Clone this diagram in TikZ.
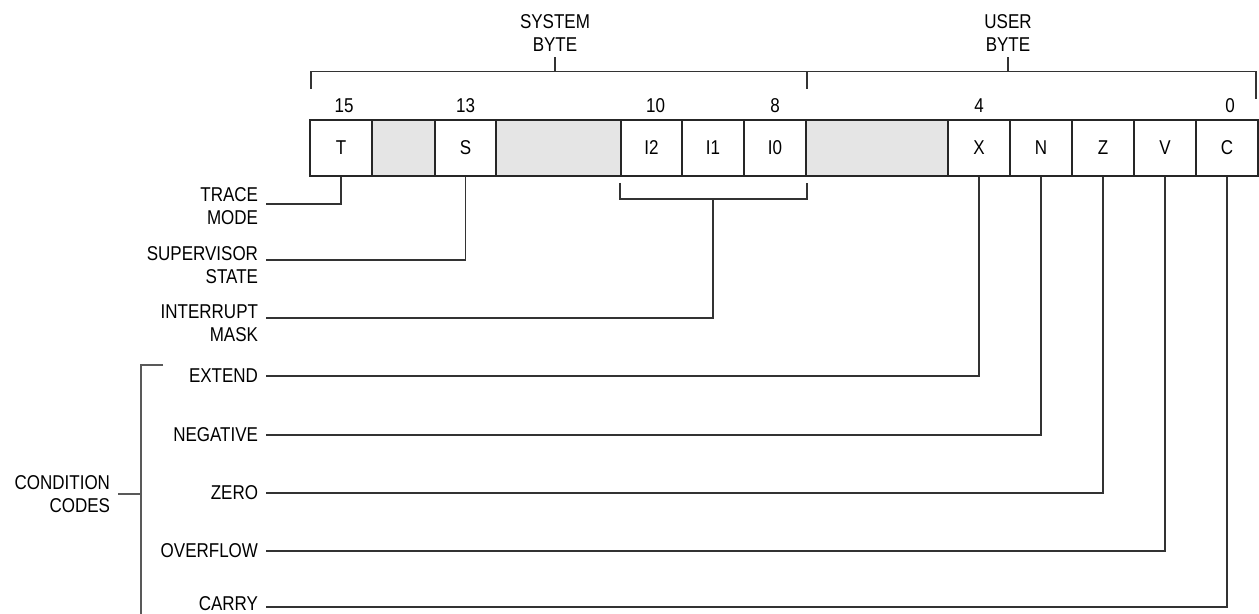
\documentclass[tikz,border=0pt]{standalone}
\usepackage{fontspec}
\setmainfont{Liberation Sans}[FakeStretch=0.85]
\usetikzlibrary{positioning}

\begin{document}
\begin{tikzpicture}[x=0.5pt, y=-0.5pt,
  font=\fontsize{10}{11.75}\selectfont,
  cell/.style={draw=black!85, line width=1pt, minimum height=28pt, inner sep=0pt, minimum width=31pt},
  unused/.style={cell, fill=black!10},
  bitno/.style={inner sep=0pt},
  lab/.style={align=right, anchor=east, inner sep=1pt, outer sep=3pt},
  conn/.style={draw=black!80, line width=0.6pt},
  ccline/.style={draw=black!65, line width=0.6pt}]
\useasboundingbox (0,0) rectangle (1259,614);

% Status register cells
\node[cell] (T) at (341,148) {T};
\node[unused, minimum width=31.5pt] (u14) at (403.5,148) {};
\node[cell, minimum width=30.5pt] (S) at (465.5,148) {S};
\node[unused, minimum width=62.5pt] (u12) at (558.5,148) {};
\node[cell, minimum width=30.5pt] (I2) at (651.5,148) {I2};
\node[cell] (I1) at (713,148) {I1};
\node[cell] (I0) at (775,148) {I0};
\node[unused, minimum width=71pt] (u7) at (877,148) {};
\foreach \b [count=\i] in {X,N,Z,V,C}
  \node[cell] (\b) at ({917+62*\i},148) {\b};

% Bit numbers
\node[bitno, above=3pt of T, xshift=1.5pt] {15};
\node[bitno, above=3pt of S] {13};
\node[bitno, above=3pt of I2, xshift=2pt] {10};
\node[bitno, above=3pt of I0] {8};
\node[bitno, above=3pt of X] {4};
\node[bitno, above=3pt of C, xshift=1.5pt] {0};

% Byte brackets
\coordinate (brk) at ([yshift=23.7pt]I0.north east);
\draw[conn] ([xshift=1pt, yshift=15pt]T.north west) |- (brk) -- ([yshift=15pt]I0.north east);
\draw[conn] (brk) -| ([xshift=-1.5pt, yshift=10pt]C.north east);
\node[align=center, inner sep=2.5pt] (sysbyte) at (555,33) {SYSTEM\\BYTE};
\node[align=center, inner sep=2.5pt] (usrbyte) at (1008,33) {USER\\BYTE};
\draw[conn] (sysbyte.south) -- (sysbyte.south |- brk);
\draw[conn] (usrbyte.south) -- (usrbyte.south |- brk);

% Labels
\node[lab] (trace) at (266,206) {TRACE\\MODE};
\node[lab] (super) at (266,265) {SUPERVISOR\\STATE};
\node[lab] (intr) at (266,323) {INTERRUPT\\MASK};
\node[lab] (extend) at (266,376) {EXTEND};
\node[lab] (negative) at (266,435) {NEGATIVE};
\node[lab] (zero) at (266,493) {ZERO};
\node[lab] (overflow) at (266,551) {OVERFLOW};
\node[lab] (carry) at (266,604) {CARRY};
\node[lab] (cc) at (118,494) {CONDITION\\CODES};

% Connectors
\draw[conn] (T.south) |- ([yshift=1pt]trace.east);
\draw[conn] (S.south) |- ([yshift=2.5pt]super.east);
\coordinate (imask) at ([yshift=-11pt]I1.south);
\draw[conn] ([yshift=-3pt]I2.south west) |- (imask) -| ([yshift=-3pt]I0.south east);
\draw[conn] (imask) |- ([yshift=2.5pt]intr.east);
\foreach \b/\l in {X/extend, N/negative, Z/zero, V/overflow}
  \draw[conn] (\b.south) |- (\l.east);
\draw[conn] (C.south) |- ([yshift=-1.5pt]carry.east);

% Condition code bracket
\coordinate (cctop) at (163,365);
\coordinate (ccbot) at (141,614);
\draw[ccline] (cctop) -| (ccbot);
\draw[ccline] (cc.east) -- (cc.east -| ccbot);
\end{tikzpicture}
\end{document}
